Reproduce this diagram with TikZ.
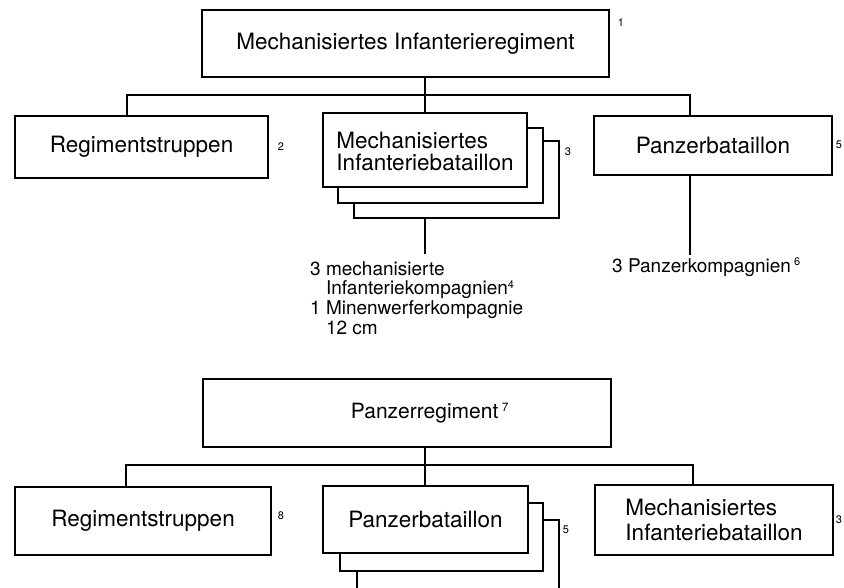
\documentclass[tikz,border=0pt]{standalone}
\usepackage{fontspec}
\setmainfont{TeX Gyre Heros}
\begin{document}
\begin{tikzpicture}[x=1pt,y=-1pt,
  box/.style={draw, line width=1.1pt, inner sep=0pt, align=center,
              font=\fontsize{22.5}{22}\selectfont},
  link/.style={line width=1.1pt},
  note/.style={font=\fontsize{11}{12}\selectfont, inner sep=0pt},
  sub/.style={font=\fontsize{19}{19.7}\selectfont, inner sep=0pt, align=left}]
\useasboundingbox (0,0) rectangle (844,587);
\clip (0,0) rectangle (844,587);

% ---------- mechanised infantry regiment ----------
\node[box, minimum width=407, minimum height=67] (mir) at (405.5,43.5)
  {Mechanisiertes Infanterieregiment};
\node[box, minimum width=253, minimum height=62] (rt1) at (141.5,147)
  {Regimentstruppen};
\node[box, minimum width=204, minimum height=74, align=left] (mib1) at (425,150)
  {\rule{0pt}{19pt}Mechanisiertes\\Infanteriebataillon};
\node[box, minimum width=238, minimum height=59] (pb1) at (713,145.5)
  {Panzerbataillon};

% stacked copies behind the battalion box
\coordinate (a2ne) at (543,128);
\coordinate (a2sw) at (338,203);
\coordinate (a3ne) at (559,141);
\coordinate (a3sw) at (354,218);
\draw[link] (mib1.east |- a2ne) -- (a2ne) -- (a2ne |- a2sw) -- (a2sw) -- (a2sw |- mib1.south);
\draw[link] (a2ne |- a3ne) -- (a3ne) -- (a3ne |- a3sw) -- (a3sw) -- (a3sw |- a2sw);

% distribution line
\coordinate (busL) at (127,95);
\coordinate (busM) at (425,95);
\coordinate (busR) at (690,95);
\draw[link] (mir.south -| busM) -- (busM);
\draw[link] (busL |- rt1.north) -- (busL) -- (busR) -- (busR |- pb1.north);
\draw[link] (busM) -- (busM |- mib1.north);

% subordinate units
\coordinate (mibEnd) at (425,254);
\coordinate (pbEnd) at (690,255);
\draw[link] (mibEnd |- a3sw) -- (mibEnd);
\draw[link] (pb1.south -| pbEnd) -- (pbEnd);
\node[sub, anchor=base west] (mibsub) at (310,275)
  {\begin{tabular}[t]{@{}l@{\ }l@{}}
   3 & mechanisierte\\
     & Infanteriekompagnien\textsuperscript{\fontsize{11}{11}\selectfont 4}\\
   1 & Minenwerferkompagnie\\
     & 12 cm
   \end{tabular}};
\node[sub, anchor=base west] (pbsub) at (612,272)
  {3 Panzerkompagnien\,\textsuperscript{\fontsize{11}{11}\selectfont 6}};

\node[note] (n1) at (621,23) {1};
\node[note] (n2) at (281,147) {2};
\node[note] (n3) at (568,152) {3};
\node[note] (n5) at (839,145) {5};

% ---------- tank regiment ----------
\node[box, minimum width=408, minimum height=68,
      font=\fontsize{21}{22}\selectfont] (pr) at (407,413)
  {\hspace*{46pt}Panzerregiment\,\textsuperscript{\fontsize{12}{12}\selectfont 7}};
\node[box, minimum width=256, minimum height=68] (rt2) at (143,521)
  {Regimentstruppen};
\node[box, minimum width=205, minimum height=67] (pb2) at (425.5,519.5)
  {Panzerbataillon};
\node[box, minimum width=238, minimum height=70, align=left,
      font=\fontsize{22.5}{25}\selectfont] (mib2) at (714,520)
  {Mechanisiertes\\Infanteriebataillon};

% stacked copies behind the battalion box
\coordinate (b2ne) at (543,503);
\coordinate (b2sw) at (340,571);
\coordinate (b3ne) at (559,520);
\coordinate (b3se) at (559,600);
\coordinate (b3sw) at (357,600);
\draw[link] (pb2.east |- b2ne) -- (b2ne) -- (b2ne |- b2sw) -- (b2sw) -- (b2sw |- pb2.south);
\draw[link] (b2ne |- b3ne) -- (b3ne) -- (b3se);
\draw[link] (b3sw |- b2sw) -- (b3sw);

% distribution line
\coordinate (busL2) at (126,465);
\coordinate (busM2) at (425,465);
\coordinate (busR2) at (693,465);
\draw[link] (pr.south -| busM2) -- (busM2 |- pb2.north);
\draw[link] (busL2 |- rt2.north) -- (busL2) -- (busR2) -- (busR2 |- mib2.north);

\node[note] (n8) at (281,516) {8};
\node[note] (n5b) at (566,530) {5};
\node[note] (n3b) at (839,520) {3};
\end{tikzpicture}
\end{document}
